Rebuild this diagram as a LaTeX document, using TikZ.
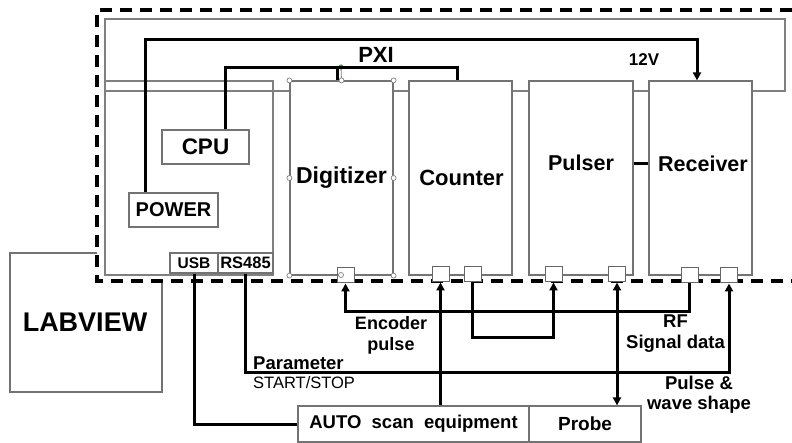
\documentclass[tikz,border=0pt]{standalone}
\usepackage{fontspec}
\setmainfont{Liberation Sans}
\usetikzlibrary{arrows.meta}
\begin{document}
\begin{tikzpicture}[x=1pt,y=-1pt,
  gline/.style={draw=black!50, line width=1.2pt},
  gbox/.style={draw=black!55, line width=1.2pt, fill=white, inner sep=0pt},
  portbox/.style={draw=black!60, line width=1pt, fill=white, minimum width=17pt, minimum height=15pt, inner sep=0pt},
  wire/.style={line width=3pt, black},
  tipend/.style={-{Triangle[length=8pt,width=8pt]}},
  tipboth/.style={{Triangle[length=8pt,width=8pt]}-{Triangle[length=8pt,width=8pt]}},
  txt/.style={inner sep=0pt, align=center, font=\bfseries\fontsize{#1}{#1}\selectfont},
  txt/.default=21.5,
  handle/.style={circle, draw=black!50, fill=white, line width=0.7pt, minimum size=5pt, inner sep=0pt},
  dashedline/.style={line width=3.2pt, dash pattern=on 12pt off 8pt}
]
\useasboundingbox (0,0) rectangle (792,443);
% LABVIEW (behind the chassis)
\node[gbox, minimum width=152pt, minimum height=139pt] (lab) at (86,322.5) {};
\node[txt=27] (labt) at (85,322) {LABVIEW};
% dashed enclosure
\fill[white] (97,10) rectangle (792,281);
\draw[dashedline] (792,10) -- (97,10) -- (97,281) -- (792,281);
% chassis
\draw[gline] (105,81) -- (105,19) -- (785,19) -- (785,91) -- (752,91);
\draw[gline] (105,81) rectangle (273,275);
\draw[gline] (105,91) -- (290,91);
\draw[gline] (393,91) -- (409,91);
\draw[gline] (512,91) -- (529,91);
\draw[gline] (633,91) -- (649,91);
% modules
\node[gbox, minimum width=103pt, minimum height=194pt] (dig) at (341.5,178) {};
\node[gbox, minimum width=103pt, minimum height=194pt] (cnt) at (460.5,178) {};
\node[gbox, minimum width=104pt, minimum height=194pt] (pul) at (581,178) {};
\node[gbox, minimum width=103pt, minimum height=194pt] (rcv) at (700.5,178) {};
\node[txt=23] (digt) at (341.5,178) {Digitizer};
\node[txt=22] (cntt) at (461.5,178) {Counter};
\node[txt] (pult) at (581,163) {Pulser};
\node[txt] (rcvt) at (703,164) {Receiver};
% boxes in CPU module
\node[gbox, minimum width=87pt, minimum height=34pt, txt=22.5] (cpu) at (205.5,147) {CPU};
\node[gbox, minimum width=89pt, minimum height=34pt, txt=20] (power) at (173.5,210) {POWER};
\node[gbox, minimum width=48pt, minimum height=20pt, txt=15.5] (usb) at (194,263) {USB};
\node[gbox, minimum width=55pt, minimum height=20pt, txt=16.5] (rs) at (245.5,263) {RS485};
% ports
\node[portbox] (dp) at (345.5,275.5) {};
\node[portbox] (cp1) at (440.5,274.5) {};
\node[portbox] (cp2) at (472.5,274.5) {};
\node[portbox] (pp1) at (553.5,274.5) {};
\node[portbox] (pp2) at (617,274.5) {};
\node[portbox] (rp1) at (689.5,275.5) {};
\node[portbox] (rp2) at (729,275.5) {};
% selection handles on Digitizer
\coordinate (gr) at (341,67);
\draw[draw=black!50, line width=0.8pt] (dig.north) -- (gr);
\fill[green!80!black] (gr) circle (2.6pt);
\foreach \p [count=\i] in {dig.north west, dig.north, dig.north east, dig.west, dig.east, dig.south west, dig.south east}
  \node[handle] (h\i) at (\p) {};
\node[handle] (h8) at (341,275) {};
% bottom boxes
\node[gbox, minimum width=231pt, minimum height=36pt, txt=18.5] (auto) at (413.5,424) {AUTO\ \ scan\ \ equipment};
\node[gbox, minimum width=112pt, minimum height=36pt, txt=19] (probe) at (585,424) {Probe};
% wires
\coordinate (pw) at (697,40);
\draw[wire, tipend] (power.north -| 145,0) |- (pw) -- (rcv.north -| pw);
\coordinate (c1) at (225,68);
\coordinate (c2) at (457,68);
\coordinate (c3) at (337,68);
\draw[wire] (cpu.north -| c1) -- (c1) -- (c2) -- (cnt.north -| c2);
\draw[wire] (c3) -- (dig.north -| c3);
\draw[wire] (pul.east |- rcvt) -- (rcv.west |- rcvt);
\draw[wire, tipend] (rp1.south) -- ++(0,28) -| (dp.south);
\draw[wire, tipend] (cp2.south) -- ++(0,55) -| (pp1.south);
\draw[wire, tipend] (auto.north -| cp1) -- (cp1.south);
\draw[wire, tipboth] (pp2.south) -- (probe.north -| pp2);
\draw[wire, tipend] (rs.south) -- ++(0,99) -| (rp2.south);
\draw[wire] (usb.south) |- (auto.west);
% labels
\node[txt=22] (pxi) at (376,55) {PXI};
\node[txt=17] (v12) at (644,60) {12V};
\node[inner sep=0pt, align=center, font=\bfseries\fontsize{18}{21}\selectfont] (enc) at (391,335) {Encoder\\pulse};
\node[inner sep=0pt, align=left, anchor=west, font=\fontsize{16.5}{19}\selectfont] (par) at (253,372.5) {{\bfseries\fontsize{18.5}{19}\selectfont Parameter}\\START/STOP};
\node[inner sep=0pt, align=center, font=\bfseries\fontsize{18.5}{21}\selectfont] (rf) at (675.5,333.5) {RF\\Signal data};
\node[inner sep=0pt, align=center, font=\bfseries\fontsize{18.5}{20}\selectfont] (pw2) at (699,394.5) {Pulse \&\\wave shape};
\end{tikzpicture}
\end{document}
